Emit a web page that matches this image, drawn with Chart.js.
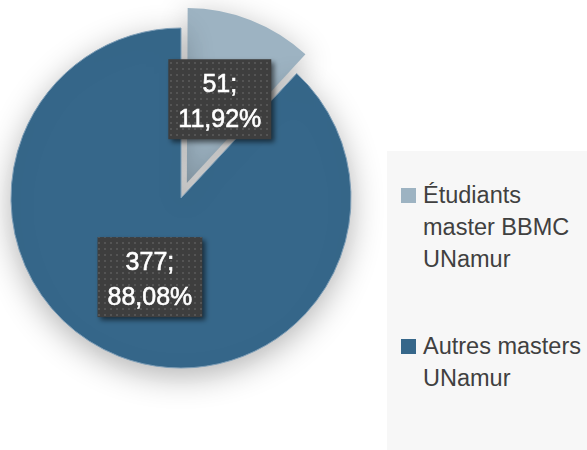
<!DOCTYPE html>
<html>
<head>
<meta charset="utf-8">
<script src="https://cdn.jsdelivr.net/npm/chart.js@4.4.1/dist/chart.umd.min.js"></script>
<style>
  html, body { margin: 0; padding: 0; background: #fff; }
  #wrap { position: relative; width: 587px; height: 450px; font-family: "Liberation Sans", Arial, sans-serif; }
  #legend { position: absolute; left: 387px; top: 151px; width: 200px; height: 299px; background: #f7f7f7; }
  .item { position: absolute; left: 0; }
  .sw { position: absolute; left: 14px; width: 15px; height: 15px; }
  .txt { position: absolute; left: 36px; font-size: 23.5px; line-height: 32px; color: #404040; white-space: nowrap; }
</style>
</head>
<body>
<div id="wrap">
  <canvas id="c" width="587" height="450"></canvas>
  <div id="legend"></div>
</div>
<script>
const legendLines = [["Étudiants", "master BBMC", "UNamur"], ["Autres masters", "UNamur"]];
const labels = legendLines.map(l => l.join(" "));
const values = [51, 377];
const colors = ["#9db3c2", "#36678a"];
const offsets = [64, 0];

// légende
const legend = document.getElementById("legend");
const itemTops = [28, 179];
legendLines.forEach((lines, i) => {
    legend.innerHTML += `
  <div class="item" style="top:${itemTops[i]}px">
    <div class="sw" style="top:9px;background:${colors[i]}"></div>
    <div class="txt">${lines.join("<br>")}</div>
  </div>`;
});

// motif pointillé des étiquettes
const pc = document.createElement("canvas");
pc.width = 6; pc.height = 6;
const pctx = pc.getContext("2d");
pctx.fillStyle = "#3e3e3e";
pctx.fillRect(0, 0, 6, 6);
pctx.fillStyle = "#545454";
pctx.fillRect(2, 2, 2, 2);

const total = values.reduce((a, b) => a + b, 0);

const pieDeco = {
    id: "pieDeco",
    beforeDatasetsDraw(chart) {
        const ctx = chart.ctx;
        ctx.save();
        ctx.shadowColor = "rgba(0,0,0,0.3)";
        ctx.shadowBlur = 32;
        ctx.shadowOffsetY = 8;
    },
    afterDatasetsDraw(chart) {
        const ctx = chart.ctx;
        ctx.restore();
        const meta = chart.getDatasetMeta(0);
        const pattern = ctx.createPattern(pc, "repeat");
        meta.data.forEach((arc, i) => {
            const { x, y, startAngle, endAngle, outerRadius } = arc.getProps(["x", "y", "startAngle", "endAngle", "outerRadius"]);
            const mid = (startAngle + endAngle) / 2;
            // décalage réellement appliqué par ArcElement.draw
            const circ = endAngle - startAngle;
            const shift = offsets[i] / 4 * (2 - Math.sin(Math.min(Math.PI, circ)));
            const d = shift + outerRadius / 2;
            const cx = x + Math.cos(mid) * d;
            const cy = y + Math.sin(mid) * d;
            const pct = (values[i] / total * 100).toFixed(2).replace(".", ",") + "%";
            const line1 = values[i] + ";";
            ctx.save();
            ctx.font = "25px 'Liberation Sans', Arial, sans-serif";
            const w = Math.max(ctx.measureText(line1).width, ctx.measureText(pct).width) + 20;
            const h = 80;
            ctx.shadowColor = "rgba(0,0,0,0.55)";
            ctx.shadowBlur = 5;
            ctx.shadowOffsetX = 3;
            ctx.shadowOffsetY = 3;
            ctx.fillStyle = pattern;
            ctx.fillRect(cx - w / 2, cy - h / 2, w, h);
            ctx.shadowColor = "transparent";
            ctx.fillStyle = "#ffffff";
            ctx.strokeStyle = "#ffffff";
            ctx.lineWidth = 0.6;
            ctx.textAlign = "center";
            ctx.textBaseline = "alphabetic";
            ctx.fillText(line1, cx, cy - 7);
            ctx.strokeText(line1, cx, cy - 7);
            ctx.fillText(pct, cx, cy + 28);
            ctx.strokeText(pct, cx, cy + 28);
            ctx.restore();
        });
    }
};

new Chart(document.getElementById("c"), {
    type: "pie",
    data: {
        labels: labels,
        datasets: [{
            data: values,
            backgroundColor: colors,
            borderColor: ["#dfe5ea", "#7d9db6"],
            borderWidth: [0, 1],
            offset: offsets
        }]
    },
    options: {
        responsive: false,
        animation: false,
        events: [],
        radius: 170,
        layout: { padding: { left: 0, top: 0, right: 225, bottom: 54 } },
        plugins: { legend: { display: false }, tooltip: { enabled: false } }
    },
    plugins: [pieDeco]
});
</script>
</body>
</html>
